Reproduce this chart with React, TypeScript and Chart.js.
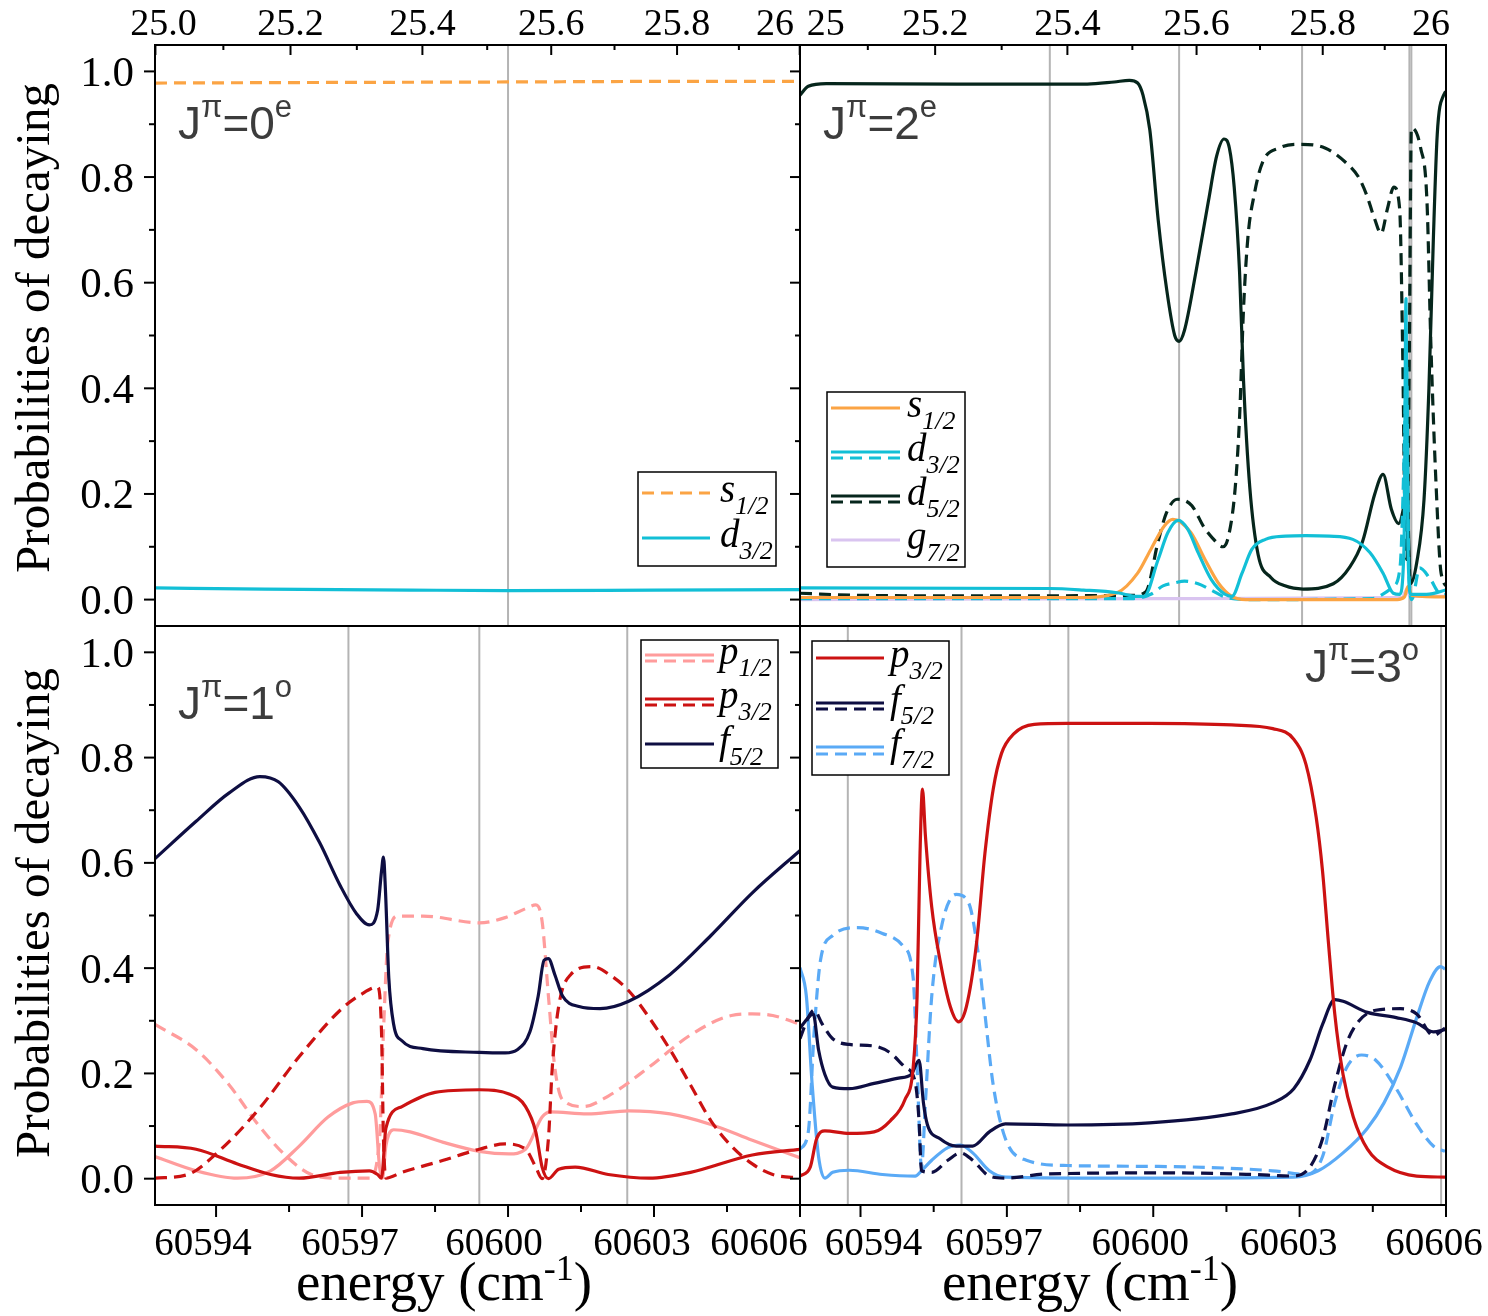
import React, { useEffect, useRef } from "react";
import { Chart, registerables } from "chart.js";

Chart.register(...registerables);

type Pt = [number, number];

const W = 1488;
const H = 1316;
const SERIF = '"Liberation Serif", "Times New Roman", serif';
const SANS = '"Liberation Sans", Arial, sans-serif';

// top axis is the effective quantum number, E = I - R / nu^2
const ION = 60768.333;
const RYD = 109737;
const nuToE = (nu: number) => ION - RYD / (nu * nu);

const topMajorNu = [25.0, 25.2, 25.4, 25.6, 25.8, 26.0];
const topMinorNu = [25.1, 25.3, 25.5, 25.7, 25.9];
const topLabelsLeft = ["25.0", "25.2", "25.4", "25.6", "25.8", "26"];
const topLabelsRight = ["25", "25.2", "25.4", "25.6", "25.8", "26"];
const energyMajor = [60594, 60597, 60600, 60603, 60606];
const energyMinor = [60595.5, 60598.5, 60601.5, 60604.5];
const energyLabels = ["60594", "60597", "60600", "60603", "60606"];
const probMajor = [0, 0.2, 0.4, 0.6, 0.8, 1.0];
const probMinor = [0.1, 0.3, 0.5, 0.7, 0.9];
const probLabels = ["0.0", "0.2", "0.4", "0.6", "0.8", "1.0"];

// colours
const ORANGE = "#fba444";
const CYAN = "#12bfd6";
const DARKGREEN = "#06261c";
const LAVENDER = "#d9c4f0";
const PINK = "#ff9c9c";
const RED = "#cc1212";
const NAVY = "#0e0e42";
const SKY = "#5aaaf6";
const GRID = "#b4b4b4";
const DASH = [12, 7];

// ---- J = 0 (even) ----
const tlS12Dash: Pt[] = [[60592.745, 0.978], [60596, 0.979], [60600, 0.98], [60603, 0.981], [60606, 0.981]];
const tlD32: Pt[] = [[60592.745, 0.022], [60595, 0.02], [60598, 0.018], [60600, 0.017], [60603, 0.018], [60606, 0.019]];
const tlMarks = [60600.0];

// ---- J = 2 (even) ----
const trD52: Pt[] = [
  [60592.76, 0.955], [60592.93, 0.972], [60593.3, 0.977], [60596, 0.976], [60598.65, 0.976], [60599.2, 0.98],
  [60599.51, 0.983], [60599.68, 0.978], [60599.79, 0.955], [60599.93, 0.889], [60600.1, 0.72], [60600.28, 0.584],
  [60600.44, 0.5], [60600.53, 0.489], [60600.64, 0.51], [60600.87, 0.618], [60601.13, 0.754], [60601.3, 0.84],
  [60601.45, 0.872], [60601.56, 0.855], [60601.66, 0.78], [60601.77, 0.618], [60601.85, 0.415], [60601.98, 0.211],
  [60602.15, 0.085], [60602.41, 0.042], [60602.7, 0.026], [60603.07, 0.02], [60603.69, 0.03], [60604.03, 0.062],
  [60604.29, 0.11], [60604.54, 0.2], [60604.71, 0.237], [60604.88, 0.171], [60605.03, 0.144], [60605.14, 0.178],
  [60605.2, 0.215], [60605.24, 0.1], [60605.27, 0.03], [60605.4, 0.07], [60605.55, 0.19], [60605.65, 0.4],
  [60605.74, 0.68], [60605.82, 0.88], [60605.95, 0.955], [60606.06, 0.965],
];
const trD52Dash: Pt[] = [
  [60592.76, 0.012], [60594, 0.008], [60597, 0.007], [60599.59, 0.008], [60599.85, 0.015], [60600.1, 0.11],
  [60600.27, 0.164], [60600.49, 0.19], [60600.79, 0.178], [60601.04, 0.137], [60601.21, 0.117], [60601.43, 0.1],
  [60601.55, 0.123], [60601.68, 0.212], [60601.77, 0.347], [60601.85, 0.55], [60601.94, 0.686], [60602.07, 0.767],
  [60602.24, 0.828], [60602.58, 0.855], [60603.01, 0.862], [60603.52, 0.855], [60603.94, 0.828], [60604.2, 0.801],
  [60604.37, 0.767], [60604.54, 0.72], [60604.67, 0.693], [60604.8, 0.74], [60604.93, 0.781], [60605.05, 0.74],
  [60605.11, 0.483], [60605.16, 0.144], [60605.2, 0.076], [60605.25, 0.483], [60605.29, 0.893], [60605.48, 0.855],
  [60605.61, 0.754], [60605.69, 0.483], [60605.8, 0.21], [60605.9, 0.05], [60606.06, 0.022],
];
const trS12: Pt[] = [
  [60592.76, 0.004], [60598.5, 0.004], [60599.26, 0.013], [60599.68, 0.05], [60599.95, 0.095], [60600.23, 0.14],
  [60600.4, 0.152], [60600.77, 0.127], [60601.06, 0.076], [60601.33, 0.032], [60601.61, 0.006], [60601.9, 0.0],
  [60605.0, 0.0], [60605.15, 0.005], [60605.22, 0.025], [60605.3, 0.008], [60606.06, 0.005],
];
const trD32: Pt[] = [
  [60592.76, 0.022], [60597.88, 0.021], [60598.57, 0.018], [60599.26, 0.013], [60599.68, 0.006], [60599.81, 0.006],
  [60600.1, 0.076], [60600.3, 0.127], [60600.51, 0.15], [60600.71, 0.133], [60600.92, 0.089], [60601.19, 0.038],
  [60601.47, 0.01], [60601.61, 0.006], [60601.82, 0.05], [60602.02, 0.095], [60602.3, 0.114], [60602.71, 0.12],
  [60603.13, 0.121], [60603.61, 0.12], [60604.09, 0.114], [60604.44, 0.089], [60604.71, 0.05], [60604.92, 0.012],
  [60605.05, 0.01], [60605.14, 0.1], [60605.18, 0.57], [60605.22, 0.1], [60605.28, 0.01], [60605.6, 0.01],
  [60606.06, 0.02],
];
const trD32Dash: Pt[] = [
  [60592.76, 0.002], [60599.6, 0.002], [60599.95, 0.01], [60600.2, 0.026], [60600.45, 0.032], [60600.64, 0.035],
  [60600.92, 0.03], [60601.19, 0.018], [60601.5, 0.004], [60602, 0.0], [60604.5, 0.002], [60604.7, 0.01],
  [60604.92, 0.025], [60605.06, 0.063], [60605.15, 0.3], [60605.19, 0.45], [60605.24, 0.05], [60605.3, 0.0],
  [60605.46, 0.06], [60605.67, 0.04], [60605.9, 0.01], [60606.06, 0.01],
];
const trG72: Pt[] = [[60592.76, 0.0], [60600, 0.002], [60605.1, 0.004], [60605.2, 0.02], [60605.26, 0.006], [60606.06, 0.006]];
const trMarks = [60597.88, 60600.53, 60603.05, 60605.25, 60605.29];

// ---- J = 1 (odd) ----
const blF52: Pt[] = [
  [60592.745, 0.608], [60593.59, 0.679], [60594.27, 0.733], [60594.9, 0.764], [60595.28, 0.754], [60595.71, 0.706],
  [60596.13, 0.638], [60596.55, 0.557], [60596.89, 0.503], [60597.15, 0.482], [60597.32, 0.51], [60597.4, 0.584],
  [60597.44, 0.611], [60597.48, 0.55], [60597.55, 0.381], [60597.65, 0.293], [60597.82, 0.262], [60598.25, 0.247],
  [60599.41, 0.24], [60599.94, 0.239], [60600.19, 0.245], [60600.45, 0.279], [60600.62, 0.347], [60600.74, 0.415],
  [60600.83, 0.418], [60600.96, 0.388], [60601.12, 0.347], [60601.46, 0.327], [60601.89, 0.323], [60602.48, 0.337],
  [60603.33, 0.388], [60604.17, 0.462], [60605.02, 0.543], [60606.02, 0.625],
];
const blP12: Pt[] = [
  [60592.745, 0.042], [60593.59, 0.015], [60594.44, 0.001], [60595.12, 0.015], [60595.71, 0.062], [60596.3, 0.117],
  [60596.81, 0.144], [60597.1, 0.147], [60597.27, 0.123], [60597.36, 0.022], [60597.42, 0.001], [60597.49, 0.062],
  [60597.65, 0.093], [60597.99, 0.089], [60598.67, 0.069], [60599.41, 0.052], [60600.02, 0.047], [60600.36, 0.056],
  [60600.7, 0.117], [60600.87, 0.127], [60601.63, 0.123], [60602.48, 0.129], [60603.33, 0.123], [60604.17, 0.103],
  [60605.02, 0.073], [60606.02, 0.039],
];
const blP12Dash: Pt[] = [
  [60592.745, 0.293], [60593.59, 0.245], [60594.27, 0.178], [60594.86, 0.103], [60595.45, 0.042], [60595.96, 0.008],
  [60596.55, 0.001], [60597.15, 0.001], [60597.36, 0.076], [60597.44, 0.279], [60597.53, 0.449], [60597.74, 0.499],
  [60598.25, 0.499], [60599.41, 0.486], [60599.94, 0.496], [60600.36, 0.513], [60600.57, 0.52], [60600.7, 0.489],
  [60600.83, 0.347], [60600.96, 0.212], [60601.12, 0.15], [60601.55, 0.137], [60602.06, 0.157], [60602.9, 0.212],
  [60603.75, 0.273], [60604.59, 0.31], [60605.02, 0.313], [60605.44, 0.31], [60606.02, 0.293],
];
const blP32: Pt[] = [
  [60592.745, 0.062], [60593.59, 0.056], [60594.44, 0.028], [60595.12, 0.008], [60595.71, 0.001], [60596.55, 0.012],
  [60597.15, 0.015], [60597.32, 0.008], [60597.4, 0.001], [60597.49, 0.096], [60597.82, 0.137], [60598.5, 0.164],
  [60599.41, 0.169], [60600.02, 0.161], [60600.36, 0.137], [60600.57, 0.089], [60600.7, 0.022], [60600.83, 0.0],
  [60601.04, 0.018], [60601.38, 0.022], [60602.06, 0.008], [60602.9, 0.001], [60603.75, 0.012], [60605.02, 0.045],
  [60606.02, 0.056],
];
const blP32Dash: Pt[] = [
  [60592.745, 0.001], [60593.42, 0.008], [60594.02, 0.049], [60594.86, 0.13], [60595.71, 0.232], [60596.55, 0.32],
  [60596.98, 0.35], [60597.32, 0.364], [60597.4, 0.279], [60597.44, 0.076], [60597.49, 0.001], [60597.82, 0.012],
  [60598.67, 0.035], [60599.41, 0.056], [60599.94, 0.066], [60600.36, 0.056], [60600.57, 0.022], [60600.7, 0.0],
  [60600.83, 0.076], [60600.91, 0.212], [60601.04, 0.327], [60601.29, 0.388], [60601.72, 0.403], [60602.14, 0.384],
  [60602.48, 0.357], [60602.9, 0.306], [60603.33, 0.245], [60603.75, 0.178], [60604.17, 0.11], [60604.59, 0.062],
  [60605.02, 0.028], [60605.44, 0.008], [60606.02, 0.001],
];
const blMarks = [60596.72, 60599.41, 60602.45];

// ---- J = 3 (odd) ----
const brP32: Pt[] = [
  [60592.76, 0.005], [60592.97, 0.022], [60593.1, 0.076], [60593.27, 0.091], [60593.77, 0.086], [60594.28, 0.089],
  [60594.61, 0.11], [60594.91, 0.15], [60595.08, 0.212], [60595.16, 0.347], [60595.22, 0.618], [60595.27, 0.74],
  [60595.33, 0.652], [60595.46, 0.516], [60595.63, 0.415], [60595.84, 0.327], [60596.01, 0.298], [60596.17, 0.327],
  [60596.38, 0.449], [60596.55, 0.618], [60596.72, 0.74], [60596.89, 0.808], [60597.14, 0.845], [60597.56, 0.863],
  [60598.24, 0.865], [60599.92, 0.865], [60601.61, 0.862], [60602.45, 0.855], [60602.88, 0.835], [60603.13, 0.787],
  [60603.34, 0.686], [60603.47, 0.584], [60603.59, 0.449], [60603.72, 0.313], [60603.89, 0.198], [60604.1, 0.117],
  [60604.39, 0.056], [60604.81, 0.022], [60605.4, 0.005], [60605.98, 0.003],
];
const brF52: Pt[] = [
  [60592.76, 0.286], [60592.93, 0.306], [60593.03, 0.313], [60593.14, 0.245], [60593.27, 0.198], [60593.43, 0.174],
  [60593.77, 0.171], [60594.28, 0.181], [60594.78, 0.191], [60595.04, 0.198], [60595.2, 0.225], [60595.29, 0.144],
  [60595.37, 0.103], [60595.63, 0.076], [60595.96, 0.062], [60596.3, 0.062], [60596.64, 0.089], [60596.97, 0.104],
  [60598.24, 0.102], [60599.92, 0.106], [60601.61, 0.123], [60602.45, 0.144], [60602.88, 0.171], [60603.21, 0.225],
  [60603.47, 0.293], [60603.72, 0.34], [60603.89, 0.337], [60604.39, 0.316], [60604.98, 0.306], [60605.4, 0.296],
  [60605.74, 0.279], [60605.98, 0.283],
];
const brF52Dash: Pt[] = [
  [60592.76, 0.266], [60592.93, 0.306], [60593.05, 0.32], [60593.22, 0.293], [60593.43, 0.266], [60593.77, 0.255],
  [60594.28, 0.252], [60594.61, 0.239], [60594.91, 0.212], [60595.12, 0.184], [60595.2, 0.11], [60595.25, 0.015],
  [60595.46, 0.012], [60595.79, 0.035], [60596.05, 0.049], [60596.3, 0.035], [60596.64, 0.005], [60596.97, 0.001],
  [60597.82, 0.009], [60600.35, 0.011], [60602.03, 0.008], [60602.88, 0.005], [60603.21, 0.022], [60603.47, 0.076],
  [60603.72, 0.178], [60603.97, 0.259], [60604.22, 0.3], [60604.56, 0.32], [60605.07, 0.323], [60605.4, 0.313],
  [60605.74, 0.272], [60605.98, 0.286],
];
const brF72: Pt[] = [
  [60592.76, 0.401], [60592.89, 0.347], [60593.01, 0.178], [60593.14, 0.042], [60593.27, 0.001], [60593.43, 0.012],
  [60593.77, 0.016], [60594.45, 0.008], [60595.12, 0.005], [60595.25, 0.015], [60595.46, 0.035], [60595.79, 0.059],
  [60596.05, 0.064], [60596.3, 0.049], [60596.64, 0.015], [60596.97, 0.003], [60599.5, 0.001], [60602.88, 0.003],
  [60603.38, 0.015], [60603.89, 0.049], [60604.39, 0.096], [60604.73, 0.144], [60605.07, 0.212], [60605.4, 0.306],
  [60605.66, 0.374], [60605.89, 0.403], [60605.98, 0.398],
];
const brF72Dash: Pt[] = [
  [60592.76, 0.056], [60592.93, 0.089], [60593.05, 0.279], [60593.18, 0.415], [60593.43, 0.462], [60593.94, 0.477],
  [60594.45, 0.466], [60594.87, 0.442], [60595.08, 0.381], [60595.16, 0.212], [60595.25, 0.022], [60595.33, 0.144],
  [60595.46, 0.347], [60595.67, 0.483], [60595.96, 0.54], [60596.22, 0.523], [60596.38, 0.449], [60596.55, 0.313],
  [60596.72, 0.178], [60596.97, 0.076], [60597.4, 0.035], [60598.24, 0.025], [60600.35, 0.023], [60602.45, 0.015],
  [60603.13, 0.008], [60603.47, 0.042], [60603.72, 0.144], [60603.97, 0.212], [60604.27, 0.235], [60604.56, 0.225],
  [60604.98, 0.171], [60605.4, 0.103], [60605.74, 0.062], [60605.98, 0.052],
];
const brMarks = [60593.74, 60596.07, 60598.26, 60605.9];

interface Run { t: string; font: string; dy?: number }
interface LegendRow { letter: string; sub: string; y: number; lines: [string, boolean, number][] }
interface LegendCfg { box: [number, number, number, number]; x1: number; x2: number; tx: number; rows: LegendRow[] }
interface PanelCfg {
  area: { l: number; t: number; r: number; b: number };
  xMin: number;
  xMax: number;
  side: "left" | "right";
  row: "top" | "bottom";
  series: [Pt[], string, boolean][];
  marks: number[];
  title: { x: number; y: number; j: string; p: string; align: "left" | "right" };
  legend: LegendCfg;
  topLabels?: string[];
  topDx?: number[];
  bottomDx?: number[];
  yTitleY?: number;
  xTitleX?: number;
}

function drawRuns(ctx: CanvasRenderingContext2D, runs: Run[], x: number, y: number, align: "left" | "center" | "right") {
  ctx.textAlign = "left";
  ctx.textBaseline = "alphabetic";
  const widths = runs.map((r) => {
    ctx.font = r.font;
    return ctx.measureText(r.t).width;
  });
  const total = widths.reduce((a, b) => a + b, 0);
  let cx = align === "left" ? x : align === "center" ? x - total / 2 : x - total;
  runs.forEach((r, i) => {
    ctx.font = r.font;
    ctx.fillText(r.t, cx, y + (r.dy || 0));
    cx += widths[i];
  });
}

const makeDecor = (p: PanelCfg) => ({
  id: "panelDecor",
  beforeDatasetsDraw(chart: any) {
    const { ctx, chartArea: a, scales } = chart;
    ctx.save();
    ctx.strokeStyle = GRID;
    ctx.lineWidth = 2;
    p.marks.forEach((e) => {
      const x = scales.x.getPixelForValue(e);
      ctx.beginPath();
      ctx.moveTo(x, a.top);
      ctx.lineTo(x, a.bottom);
      ctx.stroke();
    });
    ctx.restore();
  },
  afterDatasetsDraw(chart: any) {
    const { ctx, chartArea: a, scales } = chart;
    const xs = scales.x;
    const ys = scales.y;
    const seg = (x1: number, y1: number, x2: number, y2: number) => {
      ctx.beginPath();
      ctx.moveTo(x1, y1);
      ctx.lineTo(x2, y2);
      ctx.stroke();
    };
    ctx.save();
    ctx.strokeStyle = "#000";
    ctx.fillStyle = "#000";
    ctx.lineWidth = 2;
    ctx.setLineDash([]);

    // y axis ticks (outward)
    const maj = p.side === "left" ? 11 : 10;
    const min = p.side === "left" ? 6 : 5;
    probMajor.forEach((v, i) => {
      const y = ys.getPixelForValue(v);
      seg(a.left - maj, y, a.left, y);
      if (p.side === "left") {
        ctx.font = `43px ${SERIF}`;
        ctx.textAlign = "right";
        ctx.textBaseline = "alphabetic";
        ctx.fillText(probLabels[i], a.left - 21, y + 14.5);
      }
    });
    probMinor.forEach((v) => {
      const y = ys.getPixelForValue(v);
      seg(a.left - min, y, a.left, y);
    });

    // top axis: effective quantum number
    if (p.row === "top" && p.topLabels) {
      topMajorNu.forEach((nu, i) => {
        const x = xs.getPixelForValue(nuToE(nu));
        seg(x, a.top, x, a.top + 10);
        ctx.font = `38px ${SERIF}`;
        ctx.textAlign = "center";
        ctx.textBaseline = "alphabetic";
        ctx.fillText(p.topLabels![i], x + (p.topDx ? p.topDx[i] : 0), 35);
      });
      topMinorNu.forEach((nu) => {
        const x = xs.getPixelForValue(nuToE(nu));
        seg(x, a.top, x, a.top + 5);
      });
    }

    // bottom axis: energy
    if (p.row === "bottom") {
      energyMajor.forEach((e, i) => {
        const x = xs.getPixelForValue(e);
        seg(x, a.bottom, x, a.bottom + 12);
        ctx.font = `39px ${SERIF}`;
        ctx.textAlign = "center";
        ctx.textBaseline = "alphabetic";
        ctx.fillText(energyLabels[i], x + (p.bottomDx ? p.bottomDx[i] : 0), 1255);
      });
      energyMinor.forEach((e) => {
        const x = xs.getPixelForValue(e);
        seg(x, a.bottom, x, a.bottom + 7);
      });
      drawRuns(
        ctx,
        [
          { t: "energy (cm", font: `55px ${SERIF}` },
          { t: "-1", font: `36px ${SERIF}`, dy: -20 },
          { t: ")", font: `55px ${SERIF}` },
        ],
        p.xTitleX || (a.left + a.right) / 2,
        1300,
        "center"
      );
    }

    // frame
    ctx.strokeRect(a.left, a.top, a.right - a.left, a.bottom - a.top);

    // y title
    if (p.side === "left") {
      ctx.save();
      ctx.translate(49, p.yTitleY || (a.top + a.bottom) / 2);
      ctx.rotate(-Math.PI / 2);
      ctx.font = `49px ${SERIF}`;
      ctx.textAlign = "center";
      ctx.textBaseline = "alphabetic";
      ctx.fillText("Probabilities of decaying", 0, 0);
      ctx.restore();
    }

    // panel title J^pi = n^parity
    ctx.fillStyle = "#3c3c3c";
    drawRuns(
      ctx,
      [
        { t: "J", font: `46px ${SANS}` },
        { t: "π", font: `31px ${SANS}`, dy: -22 },
        { t: "=" + p.title.j, font: `46px ${SANS}` },
        { t: p.title.p, font: `31px ${SANS}`, dy: -22 },
      ],
      p.title.x,
      p.title.y,
      p.title.align
    );

    // legend
    const lg = p.legend;
    const [bx1, by1, bx2, by2] = lg.box;
    ctx.fillStyle = "#fff";
    ctx.fillRect(bx1, by1, bx2 - bx1, by2 - by1);
    ctx.strokeStyle = "#000";
    ctx.lineWidth = 1.5;
    ctx.strokeRect(bx1, by1, bx2 - bx1, by2 - by1);
    lg.rows.forEach((r) => {
      r.lines.forEach(([color, dashed, y]) => {
        ctx.strokeStyle = color;
        ctx.lineWidth = 3.2;
        ctx.setLineDash(dashed ? DASH : []);
        seg(lg.x1, y, lg.x2, y);
      });
      ctx.setLineDash([]);
      ctx.fillStyle = "#000";
      drawRuns(
        ctx,
        [
          { t: r.letter, font: `italic 39px ${SERIF}` },
          { t: r.sub, font: `italic 26px ${SERIF}`, dy: 12 },
        ],
        lg.tx,
        r.y + 9,
        "left"
      );
    });
    ctx.restore();
  },
});

const panels: PanelCfg[] = [
  {
    area: { l: 155, t: 45, r: 800, b: 626 },
    xMin: 60592.745,
    xMax: 60606.0,
    side: "left",
    row: "top",
    series: [
      [tlD32, CYAN, false],
      [tlS12Dash, ORANGE, true],
    ],
    marks: tlMarks,
    title: { x: 178, y: 139, j: "0", p: "e", align: "left" },
    legend: {
      box: [638, 472, 776, 566],
      x1: 642,
      x2: 710,
      tx: 720,
      rows: [
        { letter: "s", sub: "1/2", y: 493, lines: [[ORANGE, true, 493]] },
        { letter: "d", sub: "3/2", y: 538, lines: [[CYAN, false, 538]] },
      ],
    },
    topLabels: topLabelsLeft,
    topDx: [8, 0, 0, 0, 0, -25],
    yTitleY: 328,
  },
  {
    area: { l: 800, t: 45, r: 1446, b: 626 },
    xMin: 60592.76,
    xMax: 60606.0,
    side: "right",
    row: "top",
    series: [
      [trD32, CYAN, false],
      [trS12, ORANGE, false],
      [trD32Dash, CYAN, true],
      [trD52, DARKGREEN, false],
      [trD52Dash, DARKGREEN, true],
      [trG72, LAVENDER, false],
    ],
    marks: trMarks,
    title: { x: 823, y: 139, j: "2", p: "e", align: "left" },
    legend: {
      box: [827, 392, 965, 567],
      x1: 831,
      x2: 900,
      tx: 907,
      rows: [
        { letter: "s", sub: "1/2", y: 408, lines: [[ORANGE, false, 408]] },
        { letter: "d", sub: "3/2", y: 452, lines: [[CYAN, false, 452], [CYAN, true, 458]] },
        { letter: "d", sub: "5/2", y: 496, lines: [[DARKGREEN, false, 496], [DARKGREEN, true, 502]] },
        { letter: "g", sub: "7/2", y: 540, lines: [[LAVENDER, false, 540]] },
      ],
    },
    topLabels: topLabelsRight,
    topDx: [26, 0, 0, 0, 0, -15],
  },
  {
    area: { l: 155, t: 626, r: 800, b: 1205 },
    xMin: 60592.745,
    xMax: 60606.0,
    side: "left",
    row: "bottom",
    series: [
      [blF52, NAVY, false],
      [blP32, RED, false],
      [blP32Dash, RED, true],
      [blP12, PINK, false],
      [blP12Dash, PINK, true],
    ],
    marks: blMarks,
    title: { x: 178, y: 719, j: "1", p: "o", align: "left" },
    legend: {
      box: [641, 640, 778, 768],
      x1: 645,
      x2: 714,
      tx: 719,
      rows: [
        { letter: "p", sub: "1/2", y: 655, lines: [[PINK, false, 655], [PINK, true, 661]] },
        { letter: "p", sub: "3/2", y: 699, lines: [[RED, false, 699], [RED, true, 705]] },
        { letter: "f", sub: "5/2", y: 744, lines: [[NAVY, false, 744]] },
      ],
    },
    bottomDx: [-13, -12, -14, -12, -41],
    yTitleY: 913,
    xTitleX: 444,
  },
  {
    area: { l: 800, t: 626, r: 1446, b: 1205 },
    xMin: 60592.76,
    xMax: 60606.0,
    side: "right",
    row: "bottom",
    series: [
      [brP32, RED, false],
      [brF52, NAVY, false],
      [brF52Dash, NAVY, true],
      [brF72, SKY, false],
      [brF72Dash, SKY, true],
    ],
    marks: brMarks,
    title: { x: 1419, y: 682, j: "3", p: "o", align: "right" },
    legend: {
      box: [812, 641, 949, 775],
      x1: 816,
      x2: 884,
      tx: 890,
      rows: [
        { letter: "p", sub: "3/2", y: 658, lines: [[RED, false, 658]] },
        { letter: "f", sub: "5/2", y: 703, lines: [[NAVY, false, 703], [NAVY, true, 709]] },
        { letter: "f", sub: "7/2", y: 747, lines: [[SKY, false, 747], [SKY, true, 754]] },
      ],
    },
    bottomDx: [13, -13, -13, -11, -12],
    xTitleX: 1090,
  },
];

const Panel: React.FC<{ cfg: PanelCfg }> = ({ cfg }) => {
  const chartRef = useRef<HTMLCanvasElement | null>(null);

  useEffect(() => {
    const ctx = chartRef.current?.getContext("2d");
    if (!ctx) {
      return;
    }
    const datasets = cfg.series.map(([pts, color, dashed]) => ({
      data: pts.map(([x, y]) => ({ x, y })),
      borderColor: color,
      backgroundColor: color,
      borderWidth: 3.2,
      borderDash: dashed ? DASH : [],
      pointRadius: 0,
      fill: false,
      cubicInterpolationMode: "monotone" as const,
      borderJoinStyle: "round" as const,
    }));
    const chart = new Chart(ctx, {
      type: "line",
      data: { datasets },
      options: {
        animation: false,
        responsive: false,
        events: [],
        layout: {
          padding: { left: cfg.area.l, top: cfg.area.t, right: W - cfg.area.r, bottom: H - cfg.area.b },
        },
        scales: {
          x: { type: "linear", min: cfg.xMin, max: cfg.xMax, display: false },
          y: { type: "linear", min: -0.05, max: 1.05, display: false },
        },
        plugins: {
          legend: { display: false },
          tooltip: { enabled: false },
        },
      },
      plugins: [makeDecor(cfg)],
    });
    return () => {
      chart.destroy();
    };
  }, [cfg]);

  return (
    <canvas
      ref={chartRef}
      width={W}
      height={H}
      style={{ position: "absolute", left: 0, top: 0, width: W, height: H }}
    />
  );
};

export default function App() {
  return (
    <div style={{ position: "absolute", left: 0, top: 0, width: W, height: H, background: "#fff" }}>
      {panels.map((p, i) => (
        <Panel key={i} cfg={p} />
      ))}
    </div>
  );
}
